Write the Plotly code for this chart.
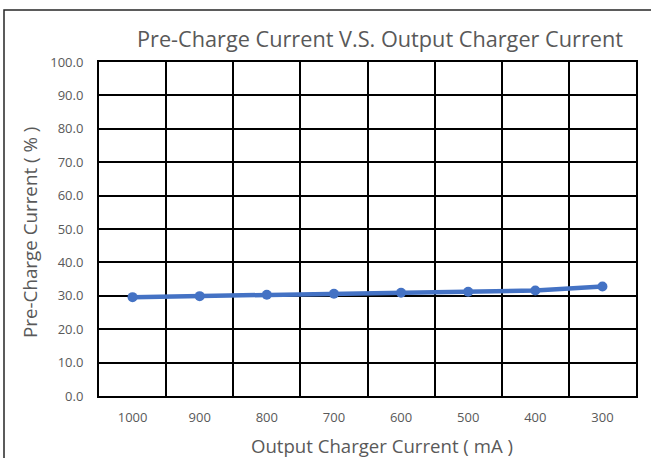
import plotly.graph_objects as go

categories = ["1000", "900", "800", "700", "600", "500", "400", "300"]
pre_charge_pct = [29.6, 29.9, 30.3, 30.6, 30.9, 31.2, 31.6, 32.8]
y_ticks = [0, 10, 20, 30, 40, 50, 60, 70, 80, 90, 100]

W, H = 651, 458
L, R, T, B = 99, 15, 62, 62
pw, ph = W - L - R, H - T - B

def px_x(p):
    return (p - L) / pw

def px_y(p):
    return (H - B - p) / ph

FONT = "Open Sans"
GRAY = "#595959"

fig = go.Figure()
fig.add_trace(go.Scatter(
    x=categories, y=pre_charge_pct, mode="lines+markers",
    line=dict(color="#4472C4", width=4.5),
    marker=dict(color="#4472C4", size=10),
    showlegend=False,
))

fig.update_layout(
    width=W, height=H,
    margin=dict(l=L, r=R, t=T, b=B),
    paper_bgcolor="white", plot_bgcolor="white",
    font=dict(family=FONT, color=GRAY),
    xaxis=dict(
        type="category", tickson="boundaries",
        showgrid=True, gridcolor="black", gridwidth=1.8,
        showline=True, linecolor="black", linewidth=2, mirror=True,
        ticks="", ticklabelstandoff=8,
        tickfont=dict(size=13, color=GRAY, family=FONT),
        range=[-0.5, 7.5],
    ),
    yaxis=dict(
        range=[0, 100], tickvals=y_ticks, tickformat=".1f",
        showgrid=True, gridcolor="black", gridwidth=1.8,
        showline=True, linecolor="black", linewidth=2, mirror=True,
        zeroline=False,
        ticks="", ticklabelstandoff=11,
        tickfont=dict(size=13, color=GRAY, family=FONT),
    ),
    annotations=[
        dict(text="Pre-Charge Current V.S. Output Charger Current",
             xref="paper", yref="paper", x=px_x(380), y=px_y(38),
             xanchor="center", yanchor="middle", showarrow=False,
             font=dict(size=21.7, color=GRAY, family=FONT)),
        dict(text="Output Charger Current ( mA )",
             xref="paper", yref="paper", x=px_x(382), y=px_y(445),
             xanchor="center", yanchor="middle", showarrow=False,
             font=dict(size=18.6, color=GRAY, family=FONT)),
        dict(text="Pre-Charge Current ( % )", textangle=-90,
             xref="paper", yref="paper", x=px_x(30), y=px_y(233),
             xanchor="center", yanchor="middle", showarrow=False,
             font=dict(size=18.8, color=GRAY, family=FONT)),
    ],
    shapes=[
        dict(type="rect", xref="paper", yref="paper",
             x0=px_x(4), y0=px_y(H + 20), x1=px_x(W + 20), y1=px_y(10),
             line=dict(color="#262626", width=1.5), fillcolor="rgba(0,0,0,0)",
             layer="below"),
    ],
)

fig.write_html("out.html", config={"displayModeBar": False},
               post_script="document.body.style.margin='0px';document.body.style.overflow='hidden';")
